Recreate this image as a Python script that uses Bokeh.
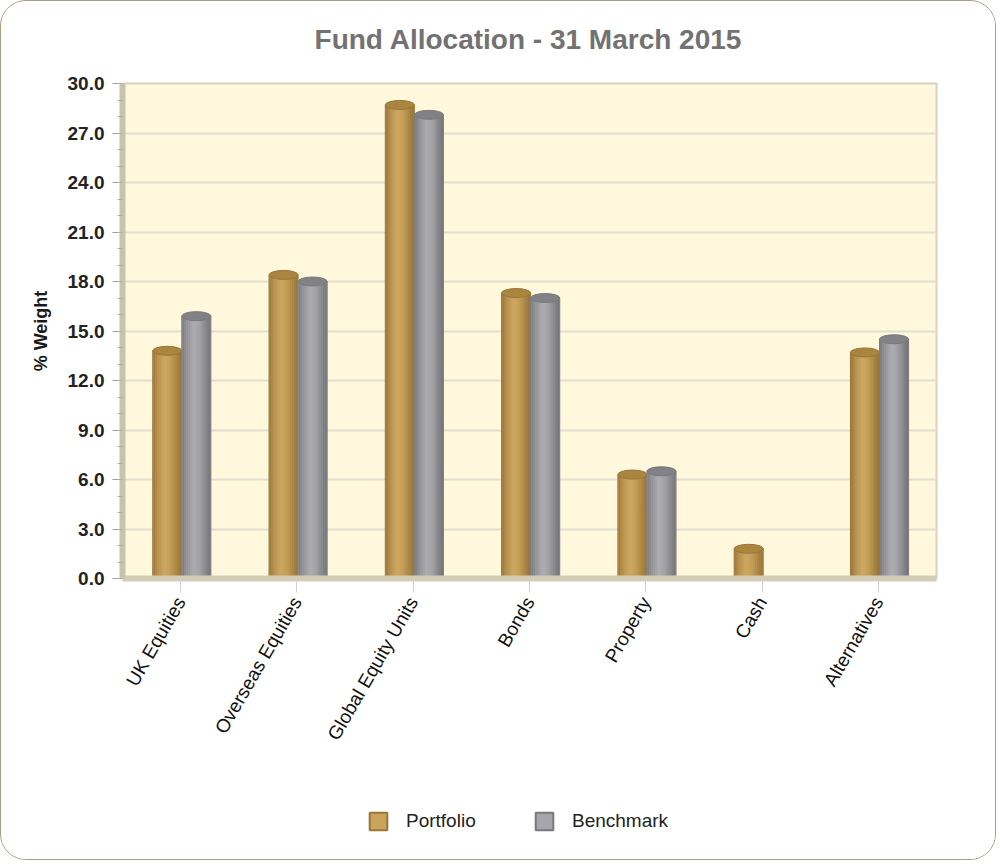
import math
from bokeh.plotting import figure
from bokeh.layouts import column
from bokeh.models import (ColumnDataSource, FactorRange, Range1d, FixedTicker,
                          PrintfTickFormatter, Legend, LegendItem, Label)
from bokeh.transform import dodge
from bokeh.embed import file_html
from bokeh.resources import INLINE

# ---------------- data ----------------
categories = ["UK Equities", "Overseas Equities", "Global Equity Units",
              "Bonds", "Property", "Cash", "Alternatives"]
portfolio = [13.8, 18.4, 28.7, 17.3, 6.3, 1.8, 13.7]
benchmark = [15.9, 18.0, 28.1, 17.0, 6.5, 0.0, 14.5]
series_names = ["Portfolio", "Benchmark"]
y_ticks = [0, 3, 6, 9, 12, 15, 18, 21, 24, 27, 30]
y_minor = list(range(0, 31))
title_text = "Fund Allocation - 31 March 2015"
y_label = "% Weight"

FONT = "Liberation Sans"
TOTAL_W = 994
HDR_H = 60
MAIN_TOP = 22
MAIN_BOTTOM = 200
FRAME_H = 495
LEG_H = 858 - HDR_H - MAIN_TOP - FRAME_H - MAIN_BOTTOM
FRAME_LEFT = 122  # frames of the stacked figures are aligned with the chart frame

# ---------------- header strip with title ----------------
hdr = figure(width=TOTAL_W, height=HDR_H, x_range=Range1d(0, 1), y_range=Range1d(0, 1),
             x_axis_type=None, y_axis_type=None, min_border=0,
             output_backend="svg", toolbar_location=None)
hdr.outline_line_color = None
hdr.grid.visible = False
hdr.background_fill_color = "white"
hdr.border_fill_color = "white"
hdr.add_layout(Label(x=528 - FRAME_LEFT, y=HDR_H - 38, x_units="screen", y_units="screen",
                     text=title_text, text_align="center", text_baseline="middle",
                     text_font=FONT, text_font_size="28px", text_font_style="bold",
                     text_color="#727272"))

# ---------------- main chart ----------------
p = figure(x_range=FactorRange(factors=categories), y_range=Range1d(0, 30),
           frame_width=814, frame_height=FRAME_H,
           min_border_left=121, min_border_right=59,
           min_border_top=MAIN_TOP, min_border_bottom=MAIN_BOTTOM,
           output_backend="svg", toolbar_location=None)

p.background_fill_color = "#FFF8DC"
p.border_fill_color = "white"
p.outline_line_color = "#D8D2BE"
p.outline_line_width = 2

# y axis
ya = p.yaxis[0]
ya.ticker = FixedTicker(ticks=y_ticks, minor_ticks=y_minor)
ya.formatter = PrintfTickFormatter(format="%.1f")
ya.axis_label = y_label
ya.axis_label_text_font = FONT
ya.axis_label_text_font_size = "18px"
ya.axis_label_text_font_style = "bold"
ya.axis_label_text_color = "#1a1a1a"
ya.axis_label_standoff = 14
ya.major_label_text_font = FONT
ya.major_label_text_font_size = "19px"
ya.major_label_text_font_style = "bold"
ya.major_label_text_color = "#222222"
ya.major_label_standoff = 8
ya.axis_line_color = "#C9C2AC"
ya.axis_line_width = 6
ya.major_tick_line_color = "#A0A0A0"
ya.major_tick_out = 10
ya.major_tick_in = 0
ya.minor_tick_line_color = "#B0B0B0"
ya.minor_tick_out = 5
ya.minor_tick_in = 0

# x axis
xa = p.xaxis[0]
xa.major_label_orientation = math.pi / 3
xa.major_label_text_font = FONT
xa.major_label_text_font_size = "19px"
xa.major_label_text_color = "#111111"
xa.major_label_standoff = 6
xa.axis_line_color = "#D3CDB8"
xa.axis_line_width = 6
xa.major_tick_line_color = "#D0D0D0"
xa.major_tick_out = 14
xa.major_tick_in = 0

p.xgrid.visible = False
p.ygrid.grid_line_color = "#E2DED2"
p.ygrid.grid_line_width = 2

# ---------------- bars (cylinders) ----------------
W = 0.25
offsets = [-0.115, 0.135]
mid_cols = ["#C9A45A", "#A6A6AA"]
edge_cols = ["#9A7638", "#7A7A7E"]
cap_cols = ["#A9853F", "#828286"]
stops = [
    [(0.0, "#9C783A"), (0.15, "#B58F4E"), (0.42, "#CEA963"), (0.62, "#C39D57"),
     (0.85, "#A88442"), (1.0, "#967339")],
    [(0.0, "#7C7C80"), (0.15, "#929296"), (0.42, "#AEAEB2"), (0.62, "#A2A2A6"),
     (0.85, "#86868A"), (1.0, "#747477")],
]


def hex2rgb(h):
    h = h.lstrip("#")
    return tuple(int(h[i:i + 2], 16) for i in (0, 2, 4))


def grad(st, t):
    for (t0, c0), (t1, c1) in zip(st[:-1], st[1:]):
        if t0 <= t <= t1:
            f = (t - t0) / (t1 - t0) if t1 > t0 else 0
            a, b = hex2rgb(c0), hex2rgb(c1)
            return "#%02x%02x%02x" % tuple(int(round(a[i] + (b[i] - a[i]) * f)) for i in range(3))
    return st[-1][1]


N = 14
sources = []
for si, vals in enumerate([portfolio, benchmark]):
    cats = [c for c, v in zip(categories, vals) if v > 0]
    vv = [v for v in vals if v > 0]
    src = ColumnDataSource(dict(cat=cats, val=vv))
    sources.append(src)
    off = offsets[si]
    p.vbar(x=dodge("cat", off, range=p.x_range), top="val", bottom=0, width=W,
           source=src, fill_color=mid_cols[si], line_color=edge_cols[si], line_width=1)
    sw = W * 0.96 / N
    for k in range(N):
        t = (k + 0.5) / N
        o = off - W * 0.48 + (k + 0.5) * sw
        p.vbar(x=dodge("cat", o, range=p.x_range), top="val", bottom=0, width=sw * 1.08,
               source=src, fill_color=grad(stops[si], t), line_color=None)
    p.ellipse(x=dodge("cat", off, range=p.x_range), y="val", width=W, height=9,
              height_units="screen", source=src, fill_color=cap_cols[si],
              line_color=edge_cols[si], line_width=1)

# ---------------- legend strip (below the chart) ----------------
# legend-only renderers: the category factors are not on this strip's range,
# so nothing is drawn here except the legend swatches
leg = figure(width=TOTAL_W, height=LEG_H, x_range=FactorRange(factors=series_names),
             y_range=Range1d(0, 30),
             x_axis_type=None, y_axis_type=None, min_border=0,
             output_backend="svg", toolbar_location=None)
leg.outline_line_color = None
leg.grid.visible = False
leg.background_fill_color = "white"
leg.border_fill_color = "white"
leg_renderers = [
    leg.vbar(x="cat", top="val", bottom=0, width=W, source=sources[i],
             fill_color=mid_cols[i], line_color=edge_cols[i], line_width=2)
    for i in range(2)
]
legend = Legend(items=[LegendItem(label=series_names[i], renderers=[leg_renderers[i]])
                       for i in range(2)],
                orientation="horizontal", location=(368 - FRAME_LEFT - 1, LEG_H - 54),
                border_line_color=None, background_fill_alpha=0,
                padding=0, margin=0, glyph_width=22, glyph_height=22,
                label_standoff=17, label_width=110, spacing=17,
                label_text_font=FONT, label_text_font_size="19px",
                label_text_color="#222222")
leg.add_layout(legend)

layout = column(hdr, p, leg, spacing=0,
                styles={"border": "1px solid #A89C82", "border-radius": "26px",
                        "overflow": "hidden"})

open("out.html", "w").write(file_html(layout, INLINE))
